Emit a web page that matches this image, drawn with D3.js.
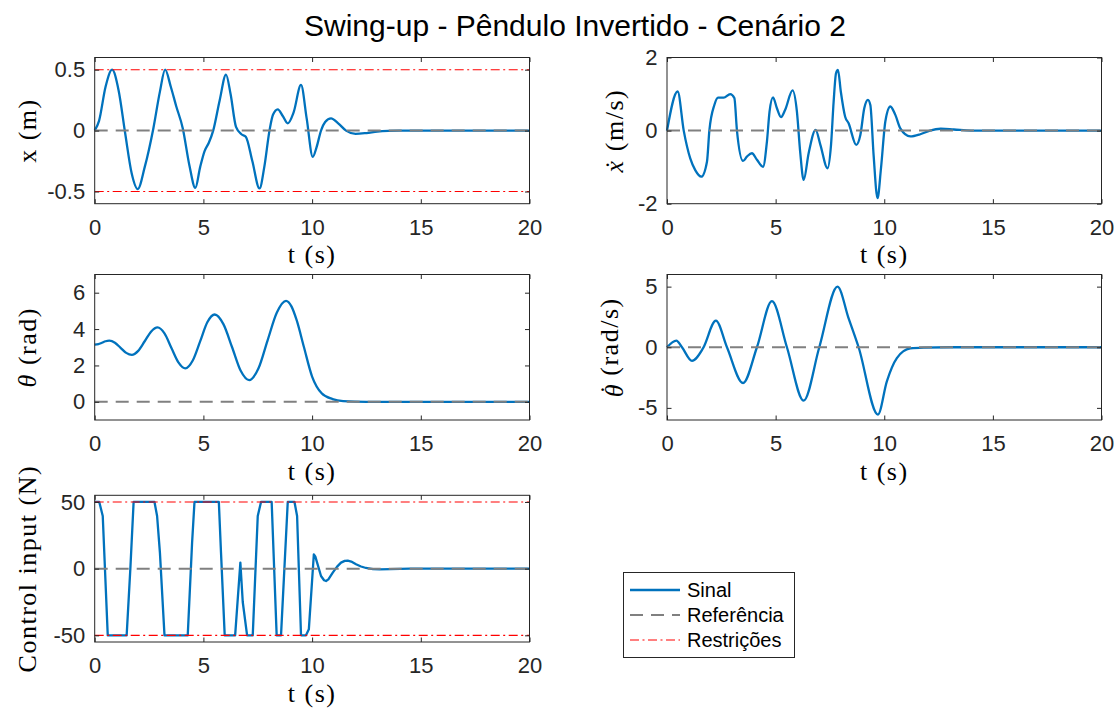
<!DOCTYPE html>
<html>
<head>
<meta charset="utf-8">
<script src="https://cdnjs.cloudflare.com/ajax/libs/d3/7.8.5/d3.min.js"></script>
<style>
body { margin: 0; background: #fff; }
</style>
</head>
<body>
<script>
//this is our data
var timeTicks = [0, 5, 10, 15, 20];

var posTime = [0, 0.2, 0.5, 0.8, 1.1, 1.4, 1.7, 1.98, 2.3, 2.7, 3.0, 3.24, 3.5, 3.75, 4.05, 4.35, 4.63, 4.85, 5.05, 5.25, 5.45, 5.75, 6.04, 6.25, 6.5, 6.75, 6.95, 7.25, 7.58, 7.8, 8.04, 8.2, 8.42, 8.65, 8.88, 9.15, 9.49, 9.75, 10.03, 10.2, 10.41, 10.6, 10.87, 11.2, 11.56, 12.0, 12.5, 13.0, 13.5, 14, 20];
var posValues = [0, 0.08, 0.36, 0.5, 0.33, -0.02, -0.35, -0.48, -0.3, 0.02, 0.32, 0.5, 0.36, 0.2, 0.02, -0.28, -0.47, -0.3, -0.17, -0.1, 0, 0.25, 0.46, 0.3, 0.03, -0.03, -0.05, -0.25, -0.475, -0.3, 0, 0.13, 0.175, 0.12, 0.06, 0.15, 0.375, 0.1, -0.215, -0.14, 0, 0.07, 0.1, 0.06, 0, -0.027, -0.02, -0.008, -0.002, 0, 0];
var posTicks = [-0.5, 0, 0.5];
var posLimits = [-0.5, 0.5];

var velTime = [0, 0.49, 0.77, 1.07, 1.30, 1.58, 1.84, 1.95, 2.18, 2.35, 2.61, 2.91, 3.10, 3.22, 3.50, 3.68, 3.91, 4.14, 4.42, 4.60, 4.72, 4.88, 5.06, 5.25, 5.44, 5.78, 5.98, 6.13, 6.29, 6.52, 6.84, 7.06, 7.39, 7.55, 7.67, 7.78, 7.87, 8.0, 8.2, 8.36, 8.71, 8.90, 9.08, 9.25, 9.36, 9.51, 9.69, 9.85, 10.05, 10.28, 10.51, 10.74, 11.2, 11.66, 12.1, 12.6, 13.2, 14, 20];
var velValues = [0, 1.07, 0, -0.76, -1.08, -1.26, -0.85, 0, 0.70, 0.90, 0.90, 1.0, 0.89, 0, -0.83, -0.71, -0.62, -0.80, -0.99, -0.30, 0.52, 0.91, 0.61, 0.37, 0.57, 1.10, 0.52, -0.58, -1.35, -0.62, 0.02, -0.39, -1.03, -0.39, 0.79, 1.57, 1.66, 1.07, 0.38, 0.20, -0.39, -0.12, 0.61, 0.84, 0.70, -0.67, -1.85, -1.03, 0.25, 0.66, 0.43, 0.06, -0.16, -0.10, 0, 0.05, 0.03, 0, 0];
var velTicks = [-2, 0, 2];

var thetaTime = [0, 0.17, 0.335, 0.5, 0.67, 0.93, 1.19, 1.45, 1.71, 2.0, 2.3, 2.6, 2.89, 3.21, 3.53, 3.85, 4.17, 4.51, 4.85, 5.18, 5.52, 5.92, 6.32, 6.71, 7.11, 7.53, 7.95, 8.38, 8.80, 9.05, 9.29, 9.62, 10.0, 10.44, 10.94, 11.43, 12.5, 20];
var thetaValues = [3.14, 3.17, 3.25, 3.33, 3.36, 3.25, 2.97, 2.69, 2.58, 2.8, 3.33, 3.87, 4.09, 3.76, 2.96, 2.17, 1.84, 2.27, 3.32, 4.37, 4.80, 4.27, 3.0, 1.72, 1.19, 1.83, 3.37, 4.91, 5.55, 5.25, 4.49, 3.03, 1.39, 0.47, 0.15, 0.04, 0, 0];
var thetaTicks = [0, 2, 4, 6];

var omegaTime = [0, 0.43, 0.69, 1.15, 1.66, 2.25, 2.76, 3.50, 4.14, 4.83, 5.52, 6.29, 7.01, 7.85, 8.36, 8.82, 9.71, 10.12, 10.58, 11.2, 11.81, 13, 20];
var omegaValues = [0, 0.55, 0, -1.12, -0.08, 2.19, 0, -2.95, 0, 3.80, 0, -4.40, 0, 5.0, 2.38, 0, -5.55, -2.81, -0.9, -0.1, -0.03, 0, 0];
var omegaTicks = [-5, 0, 5];

var uTime = [0, 0.21, 0.37, 0.60, 1.47, 1.64, 1.79, 2.75, 2.87, 3.0, 3.21, 4.28, 4.48, 4.59, 5.71, 5.81, 5.98, 6.46, 6.70, 6.81, 7.01, 7.27, 7.50, 7.65, 8.14, 8.37, 8.57, 8.88, 9.19, 9.31, 9.49, 9.72, 9.85, 10.08, 10.15, 10.23, 10.41, 10.55, 10.64, 10.75, 10.95, 11.15, 11.33, 11.5, 11.64, 11.8, 12.02, 12.25, 12.48, 12.8, 13.1, 13.6, 14.5, 20];
var uValues = [50, 50, 39.5, -50, -50, 0, 50, 50, 39.5, 12, -50, -50, 19.5, 50, 50, 12, -50, -50, 4.5, -25, -50, -50, 39.5, 50, 50, -50, -50, 50, 50, 39.5, -50, -50, -45.5, 10.75, 9, 4.5, -5.5, -8.7, -9.25, -8, -3, 1.5, 4.5, 5.8, 6.0, 5.3, 3.25, 1.6, 0.5, -0.4, -0.6, -0.3, 0, 0];
var uTicks = [-50, 0, 50];
var uLimits = [-50, 50];

var legendLabels = ["Sinal", "Referência", "Restrições"];

var blue = "#0072bd", gray = "#808080", red = "#ff0000", axisColor = "#262626";

//svg container
var svg = d3.select("body").append("svg")
  .attr("width", 1120)
  .attr("height", 708)
  .style("background", "#fff");

svg.append("text")
  .attr("x", 575).attr("y", 36)
  .attr("text-anchor", "middle")
  .attr("font-family", "'Liberation Sans', Arial, sans-serif")
  .attr("font-size", 30)
  .attr("fill", "#000")
  .text("Swing-up - Pêndulo Invertido - Cenário 2");

var leftCol = [94.7, 529.5], rightCol = [667, 1101.5];
var rows = [[57.5, 203.7], [274.5, 420], [495.3, 642]];

// label parts: it = italic, dot = draw a dot accent over the previous glyph
var panels = [
  { t: posTime, v: posValues, col: leftCol, row: rows[0], dom: [-0.6, 0.6], ticks: posTicks, limits: posLimits, curve: d3.curveMonotoneX,
    label: [{ s: "x (m)" }], labelX: 36 },
  { t: velTime, v: velValues, col: rightCol, row: rows[0], dom: [-2, 2], ticks: velTicks, curve: d3.curveMonotoneX,
    label: [{ s: "x", it: true }, { dot: true }, { s: " (m/s)" }], labelX: 623 },
  { t: thetaTime, v: thetaValues, col: leftCol, row: rows[1], dom: [-1, 7], ticks: thetaTicks, curve: d3.curveMonotoneX,
    label: [{ s: "θ", it: true }, { s: " (rad)" }], labelX: 36 },
  { t: omegaTime, v: omegaValues, col: rightCol, row: rows[1], dom: [-6, 6], ticks: omegaTicks, curve: d3.curveMonotoneX,
    label: [{ s: "θ", it: true }, { dot: true, up: true }, { s: " (rad/s)" }], labelX: 623 },
  { t: uTime, v: uValues, col: leftCol, row: rows[2], dom: [-55, 55], ticks: uTicks, limits: uLimits, curve: d3.curveLinear,
    label: [{ s: "Control input (N)" }], labelX: 36 }
];

var serif = "'Liberation Serif', 'Times New Roman', serif";
var sans = "'Liberation Sans', Arial, sans-serif";

panels.forEach(function (p) {
  var x = d3.scaleLinear().domain([0, 20]).range(p.col);
  var y = d3.scaleLinear().domain(p.dom).range([p.row[1], p.row[0]]);
  var g = svg.append("g");

  // signal
  var pts = p.t.map(function (t, i) { return [t, p.v[i]]; });
  var line = d3.line()
    .x(function (d) { return x(d[0]); })
    .y(function (d) { return y(d[1]); })
    .curve(p.curve);
  g.append("path").datum(pts)
    .attr("d", line)
    .attr("fill", "none")
    .attr("stroke", blue)
    .attr("stroke-width", 2.3)
    .attr("stroke-linejoin", "round");

  // reference
  var flat = d3.line().x(function (d) { return x(d[0]); }).y(function (d) { return y(d[1]); });
  g.append("path").datum([[0, 0], [20, 0]])
    .attr("d", flat)
    .attr("stroke", gray)
    .attr("stroke-width", 2)
    .attr("stroke-dasharray", "13,8");

  // constraints
  if (p.limits) {
    p.limits.forEach(function (l) {
      g.append("path").datum([[0, l], [20, l]])
        .attr("d", flat)
        .attr("stroke", red)
        .attr("stroke-width", 1.1)
        .attr("stroke-dasharray", "9,3.5,2,3.5");
    });
  }

  // axes box with inward ticks
  var bottom = g.append("g").attr("transform", "translate(0," + p.row[1] + ")")
    .call(d3.axisBottom(x).tickValues(timeTicks).tickSize(-4.5).tickPadding(15.5));
  var top = g.append("g").attr("transform", "translate(0," + p.row[0] + ")")
    .call(d3.axisTop(x).tickValues(timeTicks).tickSize(-4.5).tickFormat(""));
  var left = g.append("g").attr("transform", "translate(" + p.col[0] + ",0)")
    .call(d3.axisLeft(y).tickValues(p.ticks).tickSize(-4.5).tickPadding(9.5).tickFormat(function (d) { return String(d); }));
  var right = g.append("g").attr("transform", "translate(" + p.col[1] + ",0)")
    .call(d3.axisRight(y).tickValues(p.ticks).tickSize(-4.5).tickFormat(""));

  [bottom, top, left, right].forEach(function (a) {
    a.select(".domain").remove();
    a.selectAll("line").attr("stroke", axisColor).attr("stroke-width", 1);
    a.selectAll("text").attr("fill", axisColor).attr("font-family", sans).attr("font-size", 22);
  });

  g.append("rect")
    .attr("x", p.col[0]).attr("y", p.row[0])
    .attr("width", p.col[1] - p.col[0]).attr("height", p.row[1] - p.row[0])
    .attr("fill", "none")
    .attr("stroke", axisColor)
    .attr("stroke-width", 1);

  // x label
  g.append("text")
    .attr("x", (p.col[0] + p.col[1]) / 2).attr("y", p.row[1] + 59.5)
    .attr("text-anchor", "middle")
    .attr("font-family", serif).attr("font-size", 26)
    .attr("letter-spacing", 1.5)
    .attr("fill", "#000")
    .text("t (s)");

  // y label
  var yl = g.append("text")
    .attr("transform", "translate(" + p.labelX + "," + ((p.row[0] + p.row[1]) / 2) + ") rotate(-90)")
    .attr("text-anchor", "middle")
    .attr("font-family", serif).attr("font-size", 26)
    .attr("letter-spacing", 1.5)
    .attr("fill", "#000");
  p.label.forEach(function (part) {
    if (part.dot) {
      // spacing dot above, pulled back over the previous glyph
      yl.append("tspan")
        .attr("dx", part.up ? -11 : -10)
        .attr("dy", part.up ? -5 : 0)
        .text("\u02d9");
      yl.append("tspan").attr("dy", part.up ? 5 : 0).attr("dx", part.up ? 1 : 0).text("");
    } else {
      yl.append("tspan")
        .attr("font-style", part.it ? "italic" : "normal")
        .text(part.s);
    }
  });
});

// legend
var legend = svg.append("g");
legend.append("rect")
  .attr("x", 623.5).attr("y", 572.5)
  .attr("width", 171).attr("height", 85)
  .attr("fill", "#fff")
  .attr("stroke", axisColor)
  .attr("stroke-width", 1);

var legendStyles = [
  { stroke: blue, width: 2.3, dash: null },
  { stroke: gray, width: 2, dash: "13,8" },
  { stroke: red, width: 1.1, dash: "9,3.5,2,3.5" }
];

var legendRows = legend.selectAll("g.item").data(legendLabels).enter().append("g")
  .attr("class", "item")
  .attr("transform", function (d, i) { return "translate(0," + (590 + i * 25) + ")"; });

legendRows.append("line")
  .attr("x1", 630).attr("x2", 680).attr("y1", 0).attr("y2", 0)
  .attr("stroke", function (d, i) { return legendStyles[i].stroke; })
  .attr("stroke-width", function (d, i) { return legendStyles[i].width; })
  .attr("stroke-dasharray", function (d, i) { return legendStyles[i].dash; });

legendRows.append("text")
  .attr("x", 687).attr("y", 7)
  .attr("font-family", sans).attr("font-size", 20)
  .attr("fill", "#000")
  .text(function (d) { return d; });
</script>
</body>
</html>
